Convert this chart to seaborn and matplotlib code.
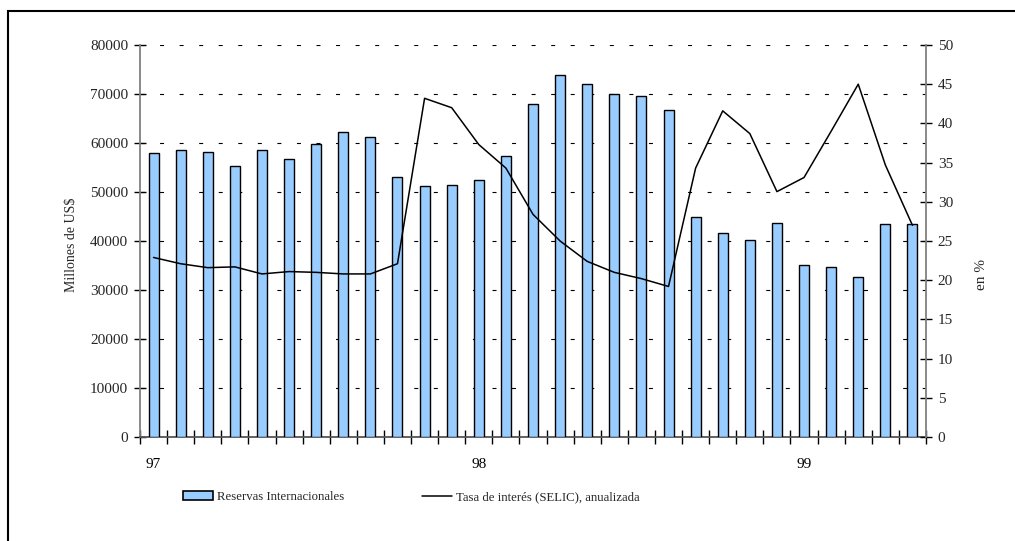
import numpy as np
import pandas as pd
import matplotlib
matplotlib.use("Agg")
import matplotlib.pyplot as plt
from matplotlib.patches import Rectangle
from matplotlib.ticker import FixedLocator, FixedFormatter
import seaborn as sns

# Monthly data, January 1997 - May 1999
reservas = [57900, 58600, 58100, 55300, 58600, 56800, 59700, 62200, 61200,
            53000, 51200, 51400, 52400, 57300, 67900, 73900, 72100, 70000,
            69500, 66700, 44900, 41600, 40200, 43600, 35100, 34600, 32700,
            43400, 43400]
selic = [22.9, 22.1, 21.6, 21.7, 20.8, 21.1, 21.0, 20.8, 20.8,
         22.1, 43.2, 42.0, 37.3, 34.3, 28.4, 25.0, 22.4, 21.0,
         20.2, 19.2, 34.3, 41.6, 38.7, 31.3, 33.1, 39.0, 45.0,
         34.7, 27.0]
year_labels = ["97", "98", "99"]
year_positions = [0, 12, 24]

bar_name = "Reservas Internacionales"
line_name = "Tasa de interés (SELIC), anualizada"

df = pd.DataFrame({"mes": np.arange(len(reservas)),
                   "reservas": reservas,
                   "selic": selic})
n = len(reservas)

sns.set_theme(style="white")
plt.rcParams["font.family"] = ["Liberation Serif", "DejaVu Serif"]
plt.rcParams["font.size"] = 10

fig = plt.figure(figsize=(10.15, 5.41), dpi=100)
ax = fig.add_axes([140 / 1015, 1 - 437 / 541, 786 / 1015, 392 / 541])

bar_color = "#99CCFF"
sns.barplot(data=df, x="mes", y="reservas", ax=ax, color=bar_color,
            width=0.37, edgecolor="black", linewidth=1.0, saturation=1,
            native_scale=True, zorder=3)
ax.set_xlim(-0.5, n - 0.5)
ax.set_ylim(0, 80000)
ax.set_yticks(np.arange(0, 80001, 10000))
ax.set_yticklabels([str(v) for v in range(0, 80001, 10000)])

# dashed horizontal gridlines behind the bars
ax.yaxis.grid(True, color="black", linewidth=0.8, linestyle=(0, (3.6, 14)))
ax.xaxis.grid(False)
ax.set_axisbelow(True)

# year labels on the major positions, tick marks between months
ax.xaxis.set_major_locator(FixedLocator(year_positions))
ax.xaxis.set_major_formatter(FixedFormatter(year_labels))
ax.xaxis.set_minor_locator(FixedLocator(np.arange(-0.5, n, 1.0)))
ax.tick_params(axis="x", which="major", length=0, pad=15, labelsize=11, colors="black")
ax.tick_params(axis="x", which="minor", length=10, width=1, direction="inout",
               color="black", bottom=True)
ax.tick_params(axis="y", which="major", length=9, width=1, direction="inout",
               color="black", labelsize=11, pad=4, left=True)
ax.set_xlabel("")
ax.set_ylabel("Millones de US$", fontsize=10)
ax.yaxis.set_label_coords(-0.079, (437 - 245) / 392)

for side in ("top", "right"):
    ax.spines[side].set_visible(False)
ax.spines["left"].set_color("#808080")
ax.spines["left"].set_linewidth(1.3)
ax.spines["bottom"].set_color("#555555")
ax.spines["bottom"].set_linewidth(1.3)

ax2 = ax.twinx()
sns.lineplot(data=df, x="mes", y="selic", ax=ax2, color="black",
             linewidth=1.1, zorder=4)
ax2.set_xlim(-0.5, n - 0.5)
ax2.set_ylim(0, 50)
ax2.set_yticks(np.arange(0, 51, 5))
ax2.set_yticklabels([str(v) for v in range(0, 51, 5)])
ax2.tick_params(axis="y", length=9, width=1, direction="inout", color="black",
                labelsize=11, pad=4, right=True)
ax2.grid(False)
ax2.set_ylabel("en %", fontsize=11)
ax2.yaxis.set_label_coords((975 - 140) / 786, (437 - 274) / 392)
for side in ("top", "left", "bottom"):
    ax2.spines[side].set_visible(False)
ax2.spines["right"].set_color("#808080")
ax2.spines["right"].set_linewidth(1.3)

# legend below the plot
handles = [Rectangle((0, 0), 1, 1, facecolor=bar_color, edgecolor="black", linewidth=1.2),
           plt.Line2D([0], [0], color="black", linewidth=1.1)]
fig.legend(handles, [bar_name, line_name], loc="center left",
           bbox_to_anchor=(183 / 1015, 1 - 497 / 541), ncol=2, frameon=False,
           fontsize=9.2, handlelength=2.35, handleheight=0.6, handletextpad=0.3,
           columnspacing=6.1, borderpad=0, borderaxespad=0)

# outer frame around the chart area
fig.patches.append(Rectangle((8 / 1015, -0.05), 1.1, 1 - 11 / 541 + 0.05,
                             transform=fig.transFigure, fill=False,
                             edgecolor="black", linewidth=1.5))

fig.savefig("out.png", dpi=100)
